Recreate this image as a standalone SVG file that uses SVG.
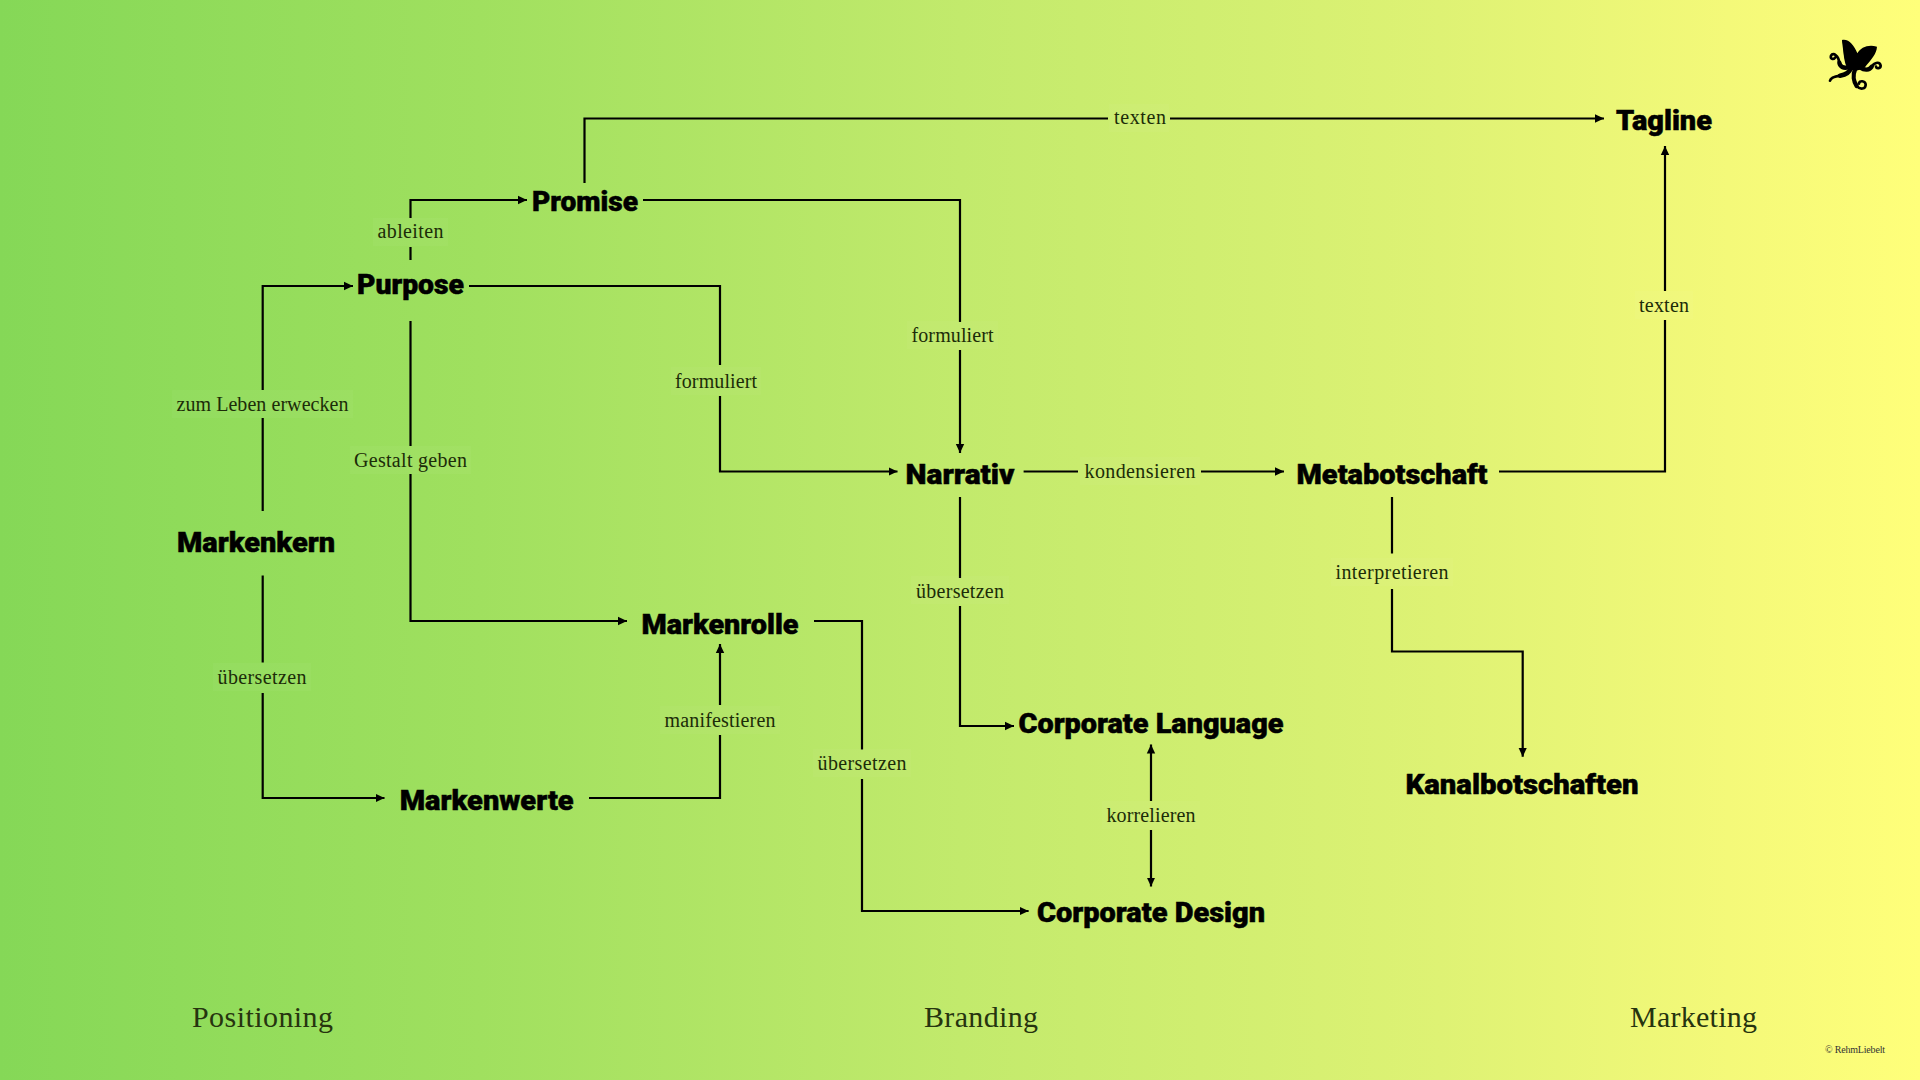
<svg xmlns="http://www.w3.org/2000/svg" width="1920" height="1080" viewBox="0 0 1920 1080">
<style>
.n{font-family:Roboto,"Liberation Sans",sans-serif;font-weight:900;font-size:27px;fill:#000;stroke:#000;stroke-width:.5;text-anchor:middle}
.l{font-family:"Liberation Serif",serif;font-size:20px;fill:#1c2c08;text-anchor:middle}
.r{font-family:"Liberation Serif",serif;font-size:30px;fill:#26340f;text-anchor:middle}
.c{fill:none;stroke:#000;stroke-width:2.2;stroke-linejoin:miter}
.b{fill:#fff;fill-opacity:.03}
.t{fill:none;stroke:#000;stroke-linecap:round}
</style>
<defs>
<linearGradient id="bg" x1="0" y1="0" x2="1" y2="0"><stop offset="0" stop-color="#85d857"/><stop offset=".25" stop-color="#a0e05f"/><stop offset=".5" stop-color="#c2ea6c"/><stop offset=".75" stop-color="#def274"/><stop offset=".9" stop-color="#f4f979"/><stop offset="1" stop-color="#ffff7a"/></linearGradient>
<marker id="a" markerUnits="userSpaceOnUse" markerWidth="10" markerHeight="10" refX="9" refY="5" orient="auto-start-reverse"><path d="M0,0.8L9,5L0,9.2Z" fill="#000"/></marker>
</defs>
<rect width="1920" height="1080" fill="url(#bg)"/>

<g id="connectors">
<path class="c" d="M584.5,183V118.5H1108"/><path class="c" d="M1170,118.5H1604" marker-end="url(#a)"/>
<path class="c" d="M410.5,260V247"/><path class="c" d="M410.5,218V200H527" marker-end="url(#a)"/>
<path class="c" d="M262.7,511V418"/><path class="c" d="M262.7,390V286H353" marker-end="url(#a)"/>
<path class="c" d="M410.5,321V446"/><path class="c" d="M410.5,474V621H627" marker-end="url(#a)"/>
<path class="c" d="M469,286H720V365"/><path class="c" d="M720,396V471.5H897.5" marker-end="url(#a)"/>
<path class="c" d="M643,200H960V322"/><path class="c" d="M960,350V453" marker-end="url(#a)"/>
<path class="c" d="M1023.6,471.5H1078"/><path class="c" d="M1201,471.5H1284" marker-end="url(#a)"/>
<path class="c" d="M1499,471.5H1665V320"/><path class="c" d="M1665,291V146" marker-end="url(#a)"/>
<path class="c" d="M1392,497V553.5"/><path class="c" d="M1392,589V651.5H1522.7V756.7" marker-end="url(#a)"/>
<path class="c" d="M960,497V578"/><path class="c" d="M960,606V726H1014" marker-end="url(#a)"/>
<path class="c" d="M1151,801V744.5" marker-end="url(#a)"/><path class="c" d="M1151,830V886.5" marker-end="url(#a)"/>
<path class="c" d="M814,621H862V749.5"/><path class="c" d="M862,779V911H1028.6" marker-end="url(#a)"/>
<path class="c" d="M262.7,575.5V662.5"/><path class="c" d="M262.7,693V798H384.5" marker-end="url(#a)"/>
<path class="c" d="M589,798H720V735"/><path class="c" d="M720,705V644" marker-end="url(#a)"/>

<rect class="b" x="1109" y="104" width="60" height="28"/><text class="l" x="1140" y="124" textLength="52">texten</text>
<rect class="b" x="373" y="218" width="75" height="28"/><text class="l" x="410.5" y="238" textLength="66">ableiten</text>
<rect class="b" x="172" y="390" width="181" height="28"/><text class="l" x="262.5" y="410.5" textLength="172">zum Leben erwecken</text>
<rect class="b" x="350" y="446" width="121" height="28"/><text class="l" x="410.5" y="466.5" textLength="113">Gestalt geben</text>
<rect class="b" x="671" y="367" width="90" height="28"/><text class="l" x="716" y="387.5" textLength="82">formuliert</text>
<rect class="b" x="907" y="321" width="91" height="28"/><text class="l" x="952.5" y="342" textLength="82">formuliert</text>
<rect class="b" x="1080" y="457" width="120" height="28"/><text class="l" x="1140" y="477.5" textLength="111">kondensieren</text>
<rect class="b" x="1635" y="291" width="58" height="28"/><text class="l" x="1664" y="311.5" textLength="50">texten</text>
<rect class="b" x="1331" y="558" width="122" height="28"/><text class="l" x="1392" y="578.5" textLength="113">interpretieren</text>
<rect class="b" x="911" y="576" width="98" height="28"/><text class="l" x="960" y="597.5" textLength="88">übersetzen</text>
<rect class="b" x="213" y="663" width="98" height="28"/><text class="l" x="262" y="683.5" textLength="89">übersetzen</text>
<rect class="b" x="660" y="706" width="120" height="28"/><text class="l" x="720" y="726.5" textLength="111">manifestieren</text>
<rect class="b" x="813" y="749" width="98" height="28"/><text class="l" x="862" y="769.5" textLength="89">übersetzen</text>
<rect class="b" x="1102" y="801" width="98" height="28"/><text class="l" x="1151" y="822" textLength="89">korrelieren</text>
</g>

<g id="n-tagline"><text class="n" x="1664" y="130" textLength="96" lengthAdjust="spacingAndGlyphs">Tagline</text></g>
<g id="n-promise"><text class="n" x="585" y="211" textLength="106" lengthAdjust="spacingAndGlyphs">Promise</text></g>
<g id="n-purpose"><text class="n" x="410.5" y="294" textLength="107" lengthAdjust="spacingAndGlyphs">Purpose</text></g>
<g id="n-markenkern"><text class="n" x="256" y="552" textLength="158" lengthAdjust="spacingAndGlyphs">Markenkern</text></g>
<g id="n-markenrolle"><text class="n" x="720" y="634" textLength="157" lengthAdjust="spacingAndGlyphs">Markenrolle</text></g>
<g id="n-markenwerte"><text class="n" x="486.7" y="810" textLength="174" lengthAdjust="spacingAndGlyphs">Markenwerte</text></g>
<g id="n-narrativ"><text class="n" x="960" y="484" textLength="109" lengthAdjust="spacingAndGlyphs">Narrativ</text></g>
<g id="n-metabotschaft"><text class="n" x="1392" y="484" textLength="191" lengthAdjust="spacingAndGlyphs">Metabotschaft</text></g>
<g id="n-corporate-language"><text class="n" x="1151" y="733" textLength="265" lengthAdjust="spacingAndGlyphs">Corporate Language</text></g>
<g id="n-corporate-design"><text class="n" x="1151" y="922" textLength="228" lengthAdjust="spacingAndGlyphs">Corporate Design</text></g>
<g id="n-kanalbotschaften"><text class="n" x="1522" y="794" textLength="233" lengthAdjust="spacingAndGlyphs">Kanalbotschaften</text></g>

<text class="r" x="262.5" y="1027" textLength="141">Positioning</text>
<text class="r" x="981" y="1027" textLength="114">Branding</text>
<text class="r" x="1693.5" y="1027" textLength="127">Marketing</text>
<text x="1825" y="1053" font-family="Liberation Serif,serif" font-size="10" fill="#333" textLength="60">© RehmLiebelt</text>

<g id="logo" transform="translate(1780,10) scale(.33333)">
<path d="M186,90C205,85 222,105 232,130C242,112 265,102 291,110C290,132 272,150 260,165C250,182 222,186 205,176C188,160 195,125 186,90Z" fill="#000"/>
<path d="M192,140C190,125 188,110 186,90C205,95 225,110 232,135L240,170L205,178Z" fill="#000"/>
<path class="t" stroke-width="13" d="M205,172C190,176 180,170 178,158"/>
<path class="t" stroke-width="8" d="M178,158C176,138 160,125 153,137C150,147 160,150 165,143"/>
<path class="t" stroke-width="13" d="M240,172C255,182 268,180 275,170"/>
<path class="t" stroke-width="8" d="M275,170C285,155 300,155 302,167C302,175 290,178 288,170"/>
<path class="t" stroke-width="14" d="M212,175C208,190 195,194 180,197"/>
<path class="t" stroke-width="8" d="M180,197C165,199 152,203 150,212"/>
<path class="t" stroke-width="13" d="M225,178C218,195 221,215 230,228"/>
<path class="t" stroke-width="8" d="M230,228C240,240 258,238 257,223C255,212 238,210 237,221"/>
</g>
</svg>
